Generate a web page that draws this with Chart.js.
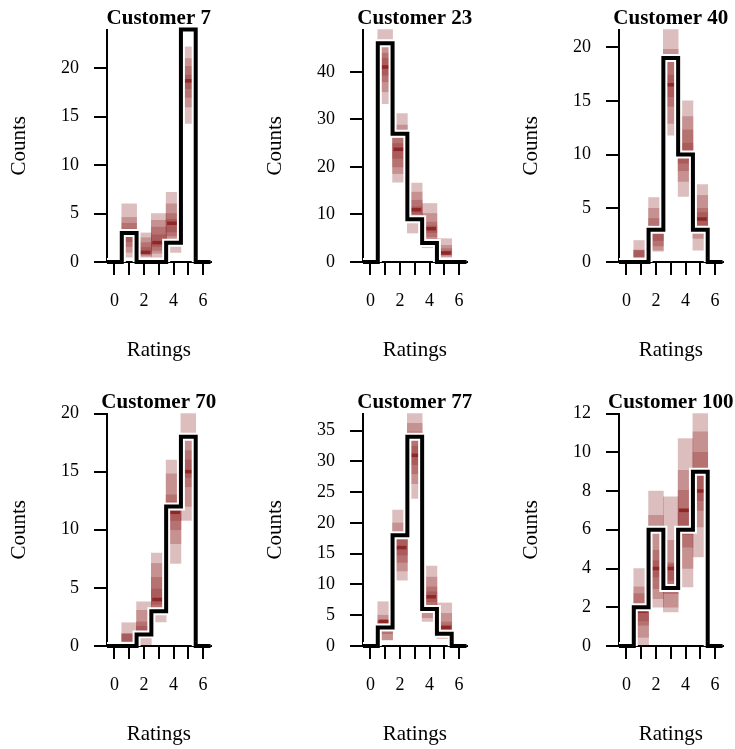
<!DOCTYPE html>
<html>
<head>
<meta charset="utf-8">
<script src="https://cdn.jsdelivr.net/npm/chart.js@4.4.1/dist/chart.umd.min.js"></script>
<style>
  html, body { margin: 0; padding: 0; background: #fff; overflow: hidden; }
  #grid { position: relative; width: 735px; height: 749px; }
  #grid canvas { position: absolute; }
</style>
</head>
<body>
<div id="grid"></div>
<script>
// ===== Data =====
const ratings = [0, 1, 2, 3, 4, 5, 6];
const xTickLabels = ['0', '', '2', '', '4', '', '6'];

// observed counts, median of replicated counts, nested interval levels (widest first)
const obs7 = [0, 3, 0, 0, 2, 24, 0];
const med7 = [null, 3, 1, 2, 4, 18.7, null];
const lo7 = [
  [null, 0.5, 0.5, 0.5, 1.0, 14.3, null],
  [null, 1.0, 0.6, 0.9, 2.0, 16.0, null],
  [null, 1.6, 0.75, 1.2, 2.7, 17.0, null],
  [null, 2.1, 0.9, 1.6, 3.1, 17.9, null]
];
const hi7 = [
  [null, 6.0, 3.0, 5.0, 7.2, 22.2, null],
  [null, 4.6, 2.5, 4.3, 6.0, 21.0, null],
  [null, 4.0, 2.0, 3.6, 5.0, 20.2, null],
  [null, 3.4, 1.5, 2.8, 4.4, 19.3, null]
];
const yTicks7 = [0, 5, 10, 15, 20];

const obs23 = [0, 46, 27, 9, 4, 0, 0];
const med23 = [null, 41, 23.7, 11, 7, 1.9, null];
const lo23 = [
  [null, 33.3, 16.8, 6.1, 3.0, 1.0, null],
  [null, 35.8, 18.6, 8.5, 4.5, 1.2, null],
  [null, 37.9, 20.0, 9.5, 5.3, 1.5, null],
  [null, 39.3, 21.8, 10.2, 6.2, 1.7, null]
];
const hi23 = [
  [null, 48.9, 31.2, 16.6, 12.3, 4.9, null],
  [null, 45.5, 28.8, 14.7, 10.2, 3.5, null],
  [null, 43.9, 26.0, 13.0, 8.4, 2.8, null],
  [null, 42.8, 24.9, 11.6, 7.6, 2.3, null]
];
const yTicks23 = [0, 10, 20, 30, 40];

const obs40 = [0, 0, 3, 19, 10, 3, 0];
const med40 = [null, null, 3, 16.5, 10, 4, null];
const lo40 = [
  [null, 0.45, 1.0, 11.8, 6.1, 1.1, null],
  [null, 0.45, 1.1, 12.9, 7.5, 2.2, null],
  [null, 0.45, 1.5, 14.5, 8.5, 2.65, null],
  [null, 0.5, 2.0, 15.4, 9.2, 3.3, null]
];
const hi40 = [
  [null, 2.0, 6.0, 21.65, 15.0, 7.2, null],
  [null, 1.1, 5.0, 19.8, 13.55, 6.2, null],
  [null, 1.1, 4.05, 18.7, 12.3, 5.0, null],
  [null, 1.05, 3.4, 17.4, 11.06, 4.6, null]
];
const yTicks40 = [0, 5, 10, 15, 20];

const obs70 = [0, 0, 1, 3, 12, 18, 0];
const med70 = [null, null, 1, 4, 11.5, 15, null];
const lo70 = [
  [null, 0.35, 0, 2.07, 7.1, 10.8, null],
  [null, 0.35, 0.65, 2.8, 8.8, 12.0, null],
  [null, 0.4, 0.9, 3.3, 10.0, 13.7, null],
  [null, 0.45, 1.0, 3.6, 10.8, 14.5, null]
];
const hi70 = [
  [null, 2.0, 3.8, 8.0, 16.0, 20.0, null],
  [null, 1.06, 3.07, 7.1, 14.8, 17.9, null],
  [null, 1.06, 2.07, 5.9, 13.0, 16.8, null],
  [null, 1.0, 1.7, 4.9, 12.4, 16.0, null]
];
const yTicks70 = [0, 5, 10, 15, 20];

const obs77 = [0, 3, 18, 34, 6, 2, 0];
const med77 = [null, 4, 16, 31, 8, 3, null];
const lo77 = [
  [null, 1.0, 10.7, 24.0, 4.0, 1.2, null],
  [null, 1.0, 12.2, 26.4, 4.6, 1.8, null],
  [null, 2.0, 13.6, 28.0, 6.2, 2.3, null],
  [null, 2.5, 14.8, 29.5, 7.2, 2.6, null]
];
const hi77 = [
  [null, 7.2, 22.1, 37.8, 13.0, 7.0, null],
  [null, 5.0, 20.0, 36.2, 11.2, 5.3, null],
  [null, 4.2, 18.6, 34.8, 9.6, 3.9, null],
  [null, 4.0, 17.3, 32.5, 8.8, 3.4, null]
];
const yTicks77 = [0, 5, 10, 15, 20, 25, 30, 35];

const obs100 = [0, 2, 6, 3, 6, 9, 0];
const med100 = [null, 1.8, 4, 4, 7, 8, null];
const lo100 = [
  [null, 0, 2.0, 1.76, 3.05, 4.6, null],
  [null, 0.45, 2.44, 2.0, 4.0, 6.15, null],
  [null, 1.07, 2.96, 2.7, 5.1, 7.0, null],
  [null, 1.3, 3.56, 3.4, 5.75, 7.5, null]
];
const hi100 = [
  [null, 4.0, 8.0, 7.7, 10.7, 12.0, null],
  [null, 3.05, 6.75, 5.46, 9.07, 11.05, null],
  [null, 2.7, 4.94, 4.3, 8.04, 10.0, null],
  [null, 2.2, 4.4, 4.2, 7.1, 8.8, null]
];
const yTicks100 = [0, 2, 4, 6, 8, 10, 12];

const panels = [
  { title: 'Customer 7', obs: obs7, med: med7, lo: lo7, hi: hi7, yTicks: yTicks7 },
  { title: 'Customer 23', obs: obs23, med: med23, lo: lo23, hi: hi23, yTicks: yTicks23 },
  { title: 'Customer 40', obs: obs40, med: med40, lo: lo40, hi: hi40, yTicks: yTicks40 },
  { title: 'Customer 70', obs: obs70, med: med70, lo: lo70, hi: hi70, yTicks: yTicks70 },
  { title: 'Customer 77', obs: obs77, med: med77, lo: lo77, hi: hi77, yTicks: yTicks77 },
  { title: 'Customer 100', obs: obs100, med: med100, lo: lo100, hi: hi100, yTicks: yTicks100 }
];

// ===== Styling =====
const BAND = 'rgba(143, 39, 39, 0.3)';
const MEDIAN = '#8f2727';
Chart.defaults.font.family = '"Liberation Serif", "Times New Roman", serif';
Chart.defaults.color = '#000';

// title centred over the plot area (not the whole canvas)
const panelTitle = {
  id: 'panelTitle',
  afterDraw(chart, args, opts) {
    const { ctx, chartArea } = chart;
    ctx.save();
    ctx.font = 'bold 21px "Liberation Serif", serif';
    ctx.fillStyle = '#000';
    ctx.textAlign = 'center';
    ctx.textBaseline = 'alphabetic';
    ctx.fillText(opts.text, (chartArea.left + chartArea.right) / 2, chartArea.top - 6);
    ctx.restore();
  }
};

const $grid = document.getElementById('grid');

panels.forEach((p, i) => {
  const canvas = document.createElement('canvas');
  canvas.width = 256;
  canvas.height = 384;
  canvas.style.left = (i % 3) * 256 + 'px';
  canvas.style.top = Math.floor(i / 3) * 384 + 'px';
  $grid.appendChild(canvas);

  // histogram outline: one flat segment per rating bin
  const step = [];
  ratings.forEach((r, k) => {
    step.push({ x: r - 0.5, y: p.obs[k] }, { x: r + 0.5, y: p.obs[k] });
  });

  const yMax = Math.max(...p.obs, ...p.hi[0].filter(v => v !== null));

  const bands = p.lo.map((lo, j) => ({
    type: 'bar',
    data: ratings
      .map((r, k) => ({ x: r, y: [lo[k], p.hi[j][k]] }))
      .filter(d => d.y[0] !== null),
    backgroundColor: BAND,
    borderWidth: 0,
    grouped: false,
    barPercentage: 1,
    categoryPercentage: 1,
    clip: false,
    order: 3 + (p.lo.length - j)
  }));

  const medians = {
    type: 'line',
    showLine: false,
    data: ratings.map((r, k) => ({ x: r, y: p.med[k] })).filter(d => d.y !== null),
    pointStyle: 'line',
    pointRadius: 6.5,
    pointBorderWidth: 3.5,
    pointBorderColor: MEDIAN,
    pointBackgroundColor: MEDIAN,
    clip: false,
    order: 2
  };

  const halo = {
    type: 'line',
    data: step,
    borderColor: '#fff',
    borderWidth: 8,
    pointRadius: 0,
    tension: 0,
    borderJoinStyle: 'miter',
    borderCapStyle: 'butt',
    clip: { left: 8, right: 8, top: 8, bottom: 0 },
    order: 1
  };

  const outline = {
    type: 'line',
    data: step,
    borderColor: '#000',
    borderWidth: 4,
    pointRadius: 0,
    tension: 0,
    borderJoinStyle: 'miter',
    borderCapStyle: 'butt',
    clip: false,
    order: 0
  };

  new Chart(canvas, {
    type: 'bar',
    data: { datasets: [outline, halo, medians, ...bands] },
    plugins: [panelTitle],
    options: {
      responsive: false,
      animation: false,
      events: [],
      devicePixelRatio: 1,
      layout: { padding: { left: 0, right: 45.5, top: 29.5, bottom: 0 } },
      plugins: {
        legend: { display: false },
        tooltip: { enabled: false },
        panelTitle: { text: p.title }
      },
      scales: {
        x: {
          type: 'linear',
          min: -0.5,
          max: 6.5,
          offset: false,
          afterBuildTicks: s => { s.ticks = ratings.map(v => ({ value: v })); },
          afterFit: s => { s.height = 122; },
          ticks: {
            autoSkip: false,
            maxRotation: 0,
            padding: 15,
            color: '#000',
            font: { size: 18 },
            callback: (v, k) => xTickLabels[k]
          },
          grid: { offset: false, drawOnChartArea: false, tickLength: 13, lineWidth: 2, color: '#000' },
          border: { display: true, color: '#000', width: 2 },
          title: { display: true, text: 'Ratings', color: '#000', font: { size: 21 }, padding: { top: 0, bottom: 21 } }
        },
        y: {
          type: 'linear',
          min: 0,
          max: yMax,
          afterBuildTicks: s => { s.ticks = p.yTicks.map(v => ({ value: v })); },
          afterFit: s => { s.width = 107; },
          ticks: { autoSkip: false, padding: 15, color: '#000', font: { size: 18 } },
          grid: { drawOnChartArea: false, tickLength: 13, lineWidth: 2, color: '#000' },
          border: { display: true, color: '#000', width: 2 },
          title: { display: true, text: 'Counts', color: '#000', font: { size: 21 }, padding: { top: 6.5, bottom: 0 } }
        }
      }
    }
  });
});
</script>
</body>
</html>
